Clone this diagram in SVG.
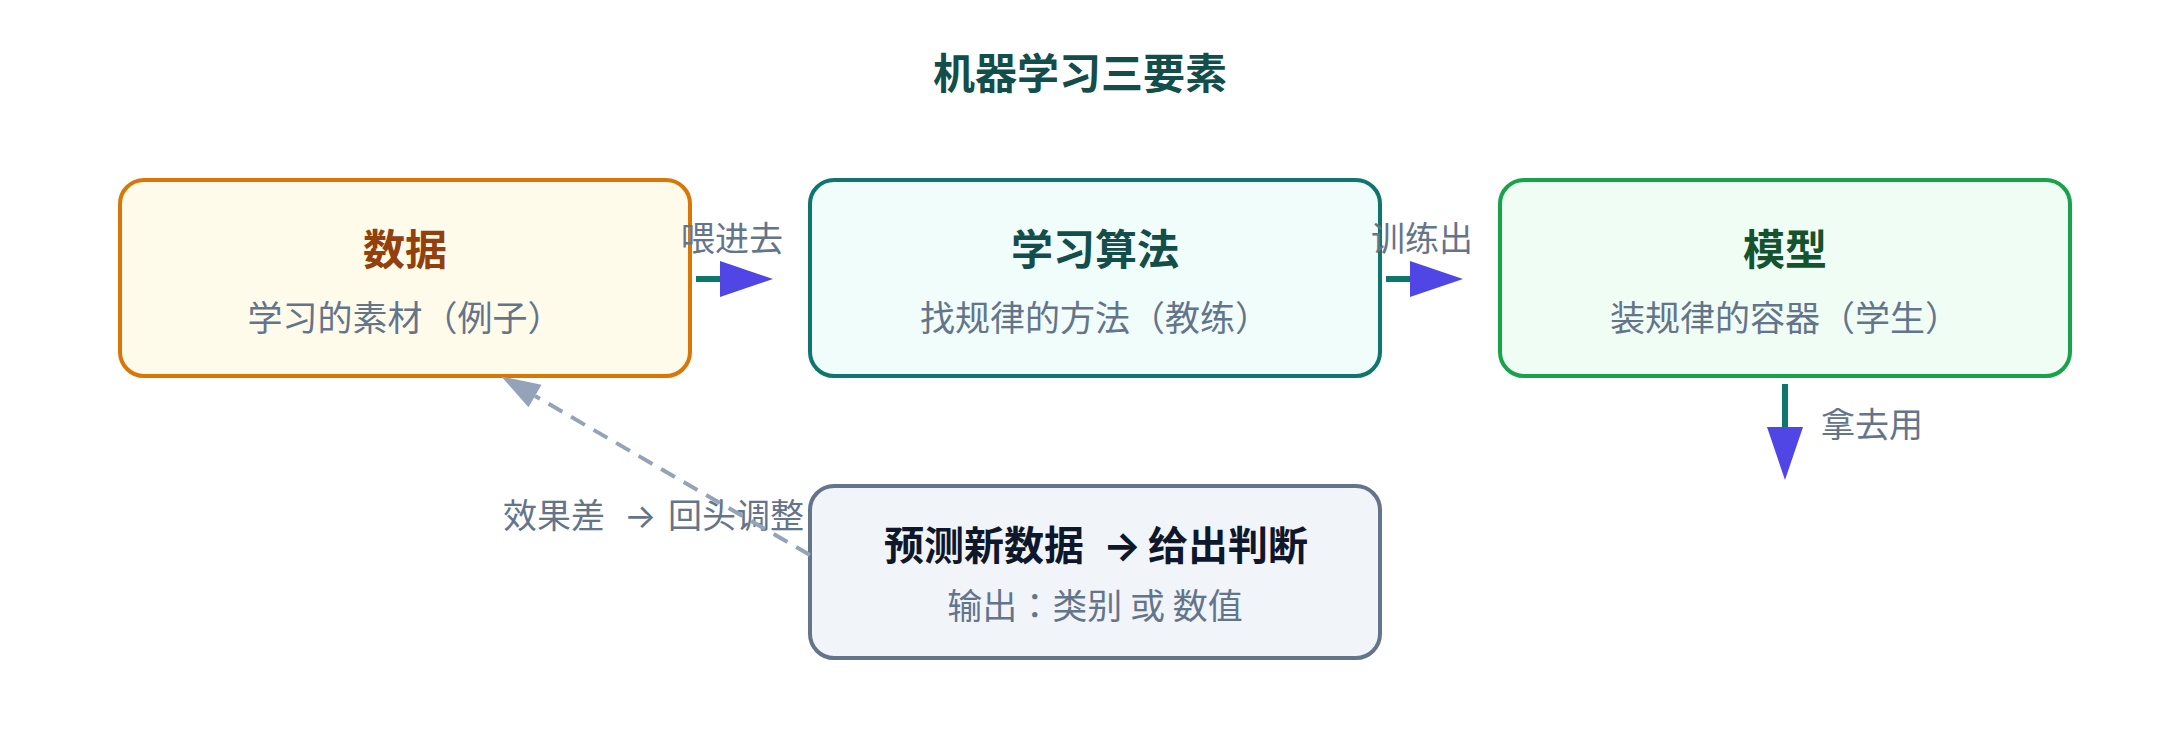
<svg xmlns="http://www.w3.org/2000/svg" width="2160" height="750" viewBox="0 0 2160 750">
  <style>
    text { font-family: "Noto Sans CJK JP", "Noto Sans CJK SC", sans-serif; }
    .title { font-size: 42px; font-weight: 700; fill: #134e4a; text-anchor: middle; }
    .head { font-size: 42px; font-weight: 700; text-anchor: middle; }
    .sub { font-size: 35px; fill: #64748b; text-anchor: middle; }
    .elabel { font-size: 34px; fill: #64748b; }
    .arr { font-family: Inter, "DejaVu Sans", sans-serif; }
    .box { stroke-width: 4; }
    .flow { stroke: #0f766e; stroke-width: 6; fill: none; }
    .back { stroke: #94a3b8; stroke-width: 4; fill: none; stroke-dasharray: 16 10; }
  </style>
  <defs>
    <marker id="ah" markerUnits="userSpaceOnUse" markerWidth="54" markerHeight="37" refX="0" refY="18" orient="auto" overflow="visible">
      <path d="M0,0 L53,18 L0,36 z" fill="#4f46e5"/>
    </marker>
    <marker id="ahg" markerUnits="userSpaceOnUse" markerWidth="40" markerHeight="27" refX="0" refY="13" orient="auto" overflow="visible">
      <path d="M0,0 L39,13 L0,26 z" fill="#94a3b8"/>
    </marker>
  </defs>
  <rect width="2160" height="750" fill="#ffffff"/>
  <text class="title" x="1080" y="89">机器学习三要素</text>

  <g id="node-data">
    <rect class="box" x="120" y="180" width="570" height="196" rx="24" fill="#fffbeb" stroke="#d97706"/>
    <text class="head" x="405" y="265" fill="#92400e">数据</text>
    <text class="sub" x="405" y="331">学习的素材（例子）</text>
  </g>
  <g id="node-algo">
    <rect class="box" x="810" y="180" width="570" height="196" rx="24" fill="#f0fdfa" stroke="#0f766e"/>
    <text class="head" x="1095" y="265" fill="#134e4a">学习算法</text>
    <text class="sub" x="1095" y="331">找规律的方法（教练）</text>
  </g>
  <g id="node-model">
    <rect class="box" x="1500" y="180" width="570" height="196" rx="24" fill="#f0fdf4" stroke="#16a34a"/>
    <text class="head" x="1785" y="265" fill="#14532d">模型</text>
    <text class="sub" x="1785" y="331">装规律的容器（学生）</text>
  </g>
  <g id="node-predict">
    <rect class="box" x="810" y="486" width="570" height="172" rx="24" fill="#f1f5f9" stroke="#64748b"/>
    <text y="560" font-size="40" font-weight="700" fill="#0f172a"><tspan x="884">预测新数据 </tspan><tspan class="arr" x="1103">→ </tspan><tspan x="1148">给出判断</tspan></text>
    <text class="sub" x="1095" y="619">输出：类别 或 数值</text>
  </g>

  <g id="connectors">
    <g id="e-data-algo">
      <line class="flow" x1="696" y1="279" x2="720" y2="279" marker-end="url(#ah)"/>
      <text class="elabel" x="732" y="251" text-anchor="middle">喂进去</text>
    </g>
    <g id="e-algo-model">
      <line class="flow" x1="1386" y1="279" x2="1410" y2="279" marker-end="url(#ah)"/>
      <text class="elabel" x="1422" y="251" text-anchor="middle">训练出</text>
    </g>
    <g id="e-model-use">
      <line class="flow" x1="1785" y1="384" x2="1785" y2="427" marker-end="url(#ah)"/>
      <text class="elabel" x="1821" y="437">拿去用</text>
    </g>
    <g id="e-feedback">
      <text class="elabel" y="528"><tspan x="503">效果差 </tspan><tspan class="arr" x="624">→ </tspan><tspan x="668">回头调整</tspan></text>
      <line class="back" x1="810" y1="555" x2="535" y2="396" marker-end="url(#ahg)"/>
    </g>
  </g>
</svg>
